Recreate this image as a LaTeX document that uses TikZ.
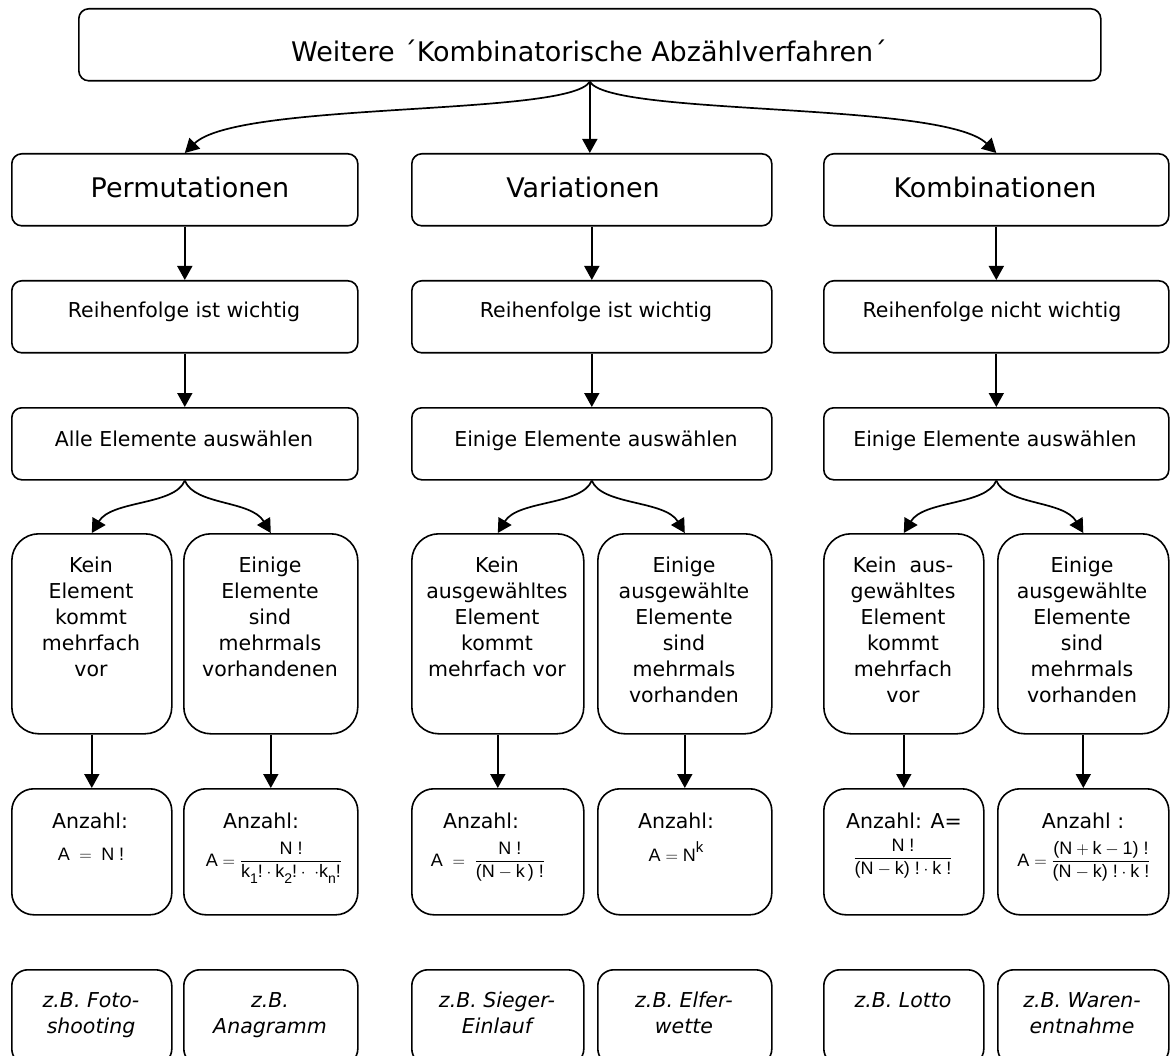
\documentclass[tikz,border=0pt]{standalone}
\usepackage{amsmath}
\usepackage{fontspec}
\setmainfont{DejaVu Sans}
\newfontfamily\fm{Liberation Sans}
\usetikzlibrary{arrows.meta,calc}
\newcommand\mm[1]{\text{\fm #1}}
\newcommand\sbx[1]{\raisebox{-0.3em}{\fontsize{14}{14}\selectfont\fm #1}}
\newcommand\spx[1]{\raisebox{0.5em}{\fontsize{15}{15}\selectfont\fm #1}}
\tikzset{
  bx/.style={draw, line width=1.6pt, inner sep=0pt, anchor=north west},
  lvA/.style={bx, rounded corners=10pt, minimum height=72pt},
  lvB/.style={bx, rounded corners=27pt, minimum height=200pt},
  lvC/.style={bx, rounded corners=22pt, minimum height=126pt},
  lvD/.style={bx, rounded corners=16pt, minimum height=95pt},
  arr/.style={line width=1.7pt, -{Triangle[length=14pt,width=15pt]}},
  txt/.style={inner sep=0pt, anchor=base},
  big/.style={txt, font=\fontsize{27}{32}\selectfont},
  med/.style={txt, font=\fontsize{20.5}{26}\selectfont},
  fml/.style={txt, font=\fontsize{18}{21}\selectfont},
}
\newcommand\pb[1]{\parbox[t]{170pt}{\centering #1}}
\begin{document}
\begin{tikzpicture}[x=1pt,y=-1pt]
\fill[white] (0,0) rectangle (1172,1056);
\path[use as bounding box] (0,0) rectangle (1172,1056);

% top
\node[lvA, minimum width=1022pt] (top) at (78,8) {};
\node[big] (topt) at (589,62) {Weitere ´Kombinatorische Abzählverfahren´};

% level 2
\node[lvA, minimum width=346pt] (perm) at (11,153) {};
\node[lvA, minimum width=360pt] (vari) at (411,153) {};
\node[lvA, minimum width=345pt] (komb) at (823,153) {};
\node[big] (permt) at (190,198) {Permutationen};
\node[big] (varit) at (583,198) {Variationen};
\node[big] (kombt) at (995,198) {Kombinationen};

% level 3
\node[lvA, minimum width=346pt] (pr) at (11,280) {};
\node[lvA, minimum width=360pt] (vr) at (411,280) {};
\node[lvA, minimum width=345pt] (kr) at (823,280) {};
\node[med] (prt) at (184,318) {Reihenfolge ist wichtig};
\node[med] (vrt) at (596,318) {Reihenfolge ist wichtig};
\node[med] (krt) at (992,318) {Reihenfolge nicht wichtig};

% level 4
\node[lvA, minimum width=346pt] (pa) at (11,407) {};
\node[lvA, minimum width=360pt] (va) at (411,407) {};
\node[lvA, minimum width=345pt] (ka) at (823,407) {};
\node[med] (pat) at (184,446) {Alle Elemente auswählen};
\node[med] (vat) at (596,446) {Einige Elemente auswählen};
\node[med] (kat) at (995,446) {Einige Elemente auswählen};

% level 5
\node[lvB, minimum width=160pt] (l1) at (11,533) {};
\node[lvB, minimum width=174pt] (l2) at (183,533) {};
\node[lvB, minimum width=172pt] (m1) at (411,533) {};
\node[lvB, minimum width=174pt] (m2) at (597,533) {};
\node[lvB, minimum width=160pt] (r1) at (823,533) {};
\node[lvB, minimum width=171pt] (r2) at (997,533) {};
\node[med] (l1t) at (91,572) {\pb{Kein\\Element\\kommt\\mehrfach\\vor}};
\node[med] (l2t) at (270,572) {\pb{Einige\\Elemente\\sind\\mehrmals\\vorhandenen}};
\node[med] (m1t) at (497,572) {\pb{Kein\\ausgewähltes\\Element\\kommt\\mehrfach vor}};
\node[med] (m2t) at (684,572) {\pb{Einige\\ausgewählte\\Elemente\\sind\\mehrmals\\vorhanden}};
\node[med] (r1t) at (903,572) {\pb{Kein\ \ aus-\\gewähltes\\Element\\kommt\\mehrfach\\vor}};
\node[med] (r2t) at (1082,572) {\pb{Einige\\ausgewählte\\Elemente\\sind\\mehrmals\\vorhanden}};

% level 6
\node[lvC, minimum width=160pt] (l1a) at (11,788) {};
\node[lvC, minimum width=174pt] (l2a) at (183,788) {};
\node[lvC, minimum width=172pt] (m1a) at (411,788) {};
\node[lvC, minimum width=174pt] (m2a) at (597,788) {};
\node[lvC, minimum width=160pt] (r1a) at (823,788) {};
\node[lvC, minimum width=171pt] (r2a) at (997,788) {};
\node[med] (l1at) at (90,828) {Anzahl:};
\node[med] (l2at) at (261,828) {Anzahl:};
\node[med] (m1at) at (481,828) {Anzahl:};
\node[med] (m2at) at (676,828) {Anzahl:};
\node[med] (r1at) at (904,828) {Anzahl: A=};
\node[med] (r2at) at (1083,828) {Anzahl :};
\node[fml] (f1) at (91,860) {$\mm{A}\;=\;\mm{N}\;\mm{!}$};
\node[fml] (f2) at (274,866) {$\mm{A} = \dfrac{\mm{N !}}{\mm{k\sbx{1}!}\cdot\mm{k\sbx{2}!}\cdot\;\cdot\mm{k\sbx{n}!}}$};
\node[fml] (f3) at (488,866) {$\mm{A} \;=\; \dfrac{\mm{N !}}{\mm{(N}-\mm{k\,) !}}$};
\node[fml] (f4) at (676,861) {$\mm{A} = \mm{N\spx{k}}$};
\node[fml] (f5) at (903,863) {$\dfrac{\mm{N !}}{\mm{(N}-\mm{k) !}\cdot\mm{k !}}$};
\node[fml] (f6) at (1084,866) {$\mm{A} = \dfrac{\mm{(N}+\mm{k}-\mm{1) !}}{\mm{(N}-\mm{k) !}\cdot\mm{k !}}$};

% level 7
\begin{scope}
\clip (0,0) rectangle (1172,1056);
\node[lvD, minimum width=160pt] (l1b) at (11,969) {};
\node[lvD, minimum width=174pt] (l2b) at (183,969) {};
\node[lvD, minimum width=172pt] (m1b) at (411,969) {};
\node[lvD, minimum width=174pt] (m2b) at (597,969) {};
\node[lvD, minimum width=160pt] (r1b) at (823,969) {};
\node[lvD, minimum width=171pt] (r2b) at (997,969) {};
\end{scope}
\begin{scope}[every node/.append style={font=\fontsize{20.5}{26}\selectfont\itshape}]
\node[txt] (l1bt) at (91,1007) {\pb{z.B. Foto-\\shooting}};
\node[txt] (l2bt) at (270,1007) {\pb{z.B.\\Anagramm}};
\node[txt] (m1bt) at (497,1007) {\pb{z.B. Sieger-\\Einlauf}};
\node[txt] (m2bt) at (684,1007) {\pb{z.B. Elfer-\\wette}};
\node[txt] (r1bt) at (903,1007) {\pb{z.B. Lotto}};
\node[txt] (r2bt) at (1082,1007) {\pb{z.B. Waren-\\entnahme}};
\end{scope}

% arrows from top
\draw[arr] (top.south) .. controls ($(top.south)+(-20,35)$) and ($(perm.north)+(53,-52)$) .. (perm.north);
\draw[arr] (top.south) -- (top.south |- vari.north);
\draw[arr] (top.south) .. controls ($(top.south)+(20,35)$) and ($(komb.north)+(-53,-52)$) .. (komb.north);

% vertical arrows
\draw[arr] (perm) -- (pr);
\draw[arr] (vari) -- (vr);
\draw[arr] (komb) -- (kr);
\draw[arr] (pr) -- (pa);
\draw[arr] (vr) -- (va);
\draw[arr] (kr) -- (ka);

% split arrows
\foreach \s/\a/\b in {pa/l1/l2, va/m1/m2, ka/r1/r2}{
  \draw[arr] (\s.south) .. controls ($(\s.south)+(-10,25)$) and ($(\a.north)+(20,-33)$) .. (\a.north);
  \draw[arr] (\s.south) .. controls ($(\s.south)+(10,25)$) and ($(\b.north)+(-20,-33)$) .. (\b.north);
}

% level 5 -> 6
\draw[arr] (l1) -- (l1a);
\draw[arr] (l2) -- (l2a);
\draw[arr] (m1) -- (m1a);
\draw[arr] (m2) -- (m2a);
\draw[arr] (r1) -- (r1a);
\draw[arr] (r2) -- (r2a);
\end{tikzpicture}
\end{document}
